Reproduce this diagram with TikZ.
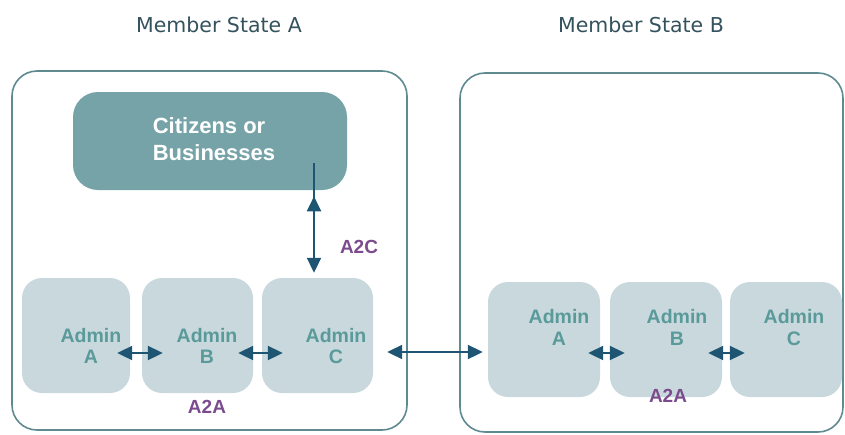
\documentclass[tikz,border=0pt]{standalone}
\usepackage{fontspec}
\setmainfont{Liberation Sans}
\newfontfamily\titlefont{DejaVu Sans}
\usetikzlibrary{arrows.meta,decorations.markings}
\definecolor{framecol}{HTML}{5E8A90}
\definecolor{citfill}{HTML}{76A3A8}
\definecolor{admfill}{HTML}{C8D8DC}
\definecolor{admtext}{HTML}{5A9A9A}
\definecolor{arrcol}{HTML}{1E5573}
\definecolor{purp}{HTML}{7B4B8E}
\definecolor{titlecol}{HTML}{34525D}
\tikzset{
  frame/.style={draw=framecol, line width=1.6pt, rounded corners=25pt},
  citbox/.style={fill=citfill, rounded corners=25pt, inner sep=0pt},
  admbox/.style={fill=admfill, rounded corners=20pt, inner sep=0pt, minimum height=115pt},
  admlabel/.style={text=admtext, font=\fontsize{19.5}{21.5}\selectfont\bfseries, align=center, inner sep=0pt},
  citlabel/.style={text=white, font=\fontsize{22}{27}\selectfont\bfseries, align=left, inner sep=0pt},
  tag/.style={text=purp, font=\fontsize{19}{20}\selectfont\bfseries, inner sep=0pt},
  titlelabel/.style={text=titlecol, font=\titlefont\fontsize{20.5}{24}\selectfont, inner sep=0pt},
  biarrow/.style={draw=arrcol, line width=2pt, {Triangle[length=15pt,width=14pt]}-{Triangle[length=15pt,width=14pt]}},
}
\begin{document}
\begin{tikzpicture}[x=1pt,y=-1pt]
\useasboundingbox (0,0) rectangle (845,434);
% titles
\node[titlelabel] (tA) at (219,25) {Member State A};
\node[titlelabel] (tB) at (641,25) {Member State B};
% frames
\draw[frame] (12,71) rectangle (407,430);
\draw[frame] (460,73) rectangle (843,432);
% citizens
\node[citbox, minimum width=274pt, minimum height=98pt] (cit) at (210,141) {};
\node[citlabel] (citT) at (214,139) {Citizens or\\Businesses};
% admin boxes left
\node[admbox, minimum width=108pt] (lA) at (76,335.5) {};
\node[admbox, minimum width=111pt] (lB) at (197.5,335.5) {};
\node[admbox, minimum width=111pt] (lC) at (317.5,335.5) {};
\node[admlabel] (lAt) at (91,346) {Admin\\A};
\node[admlabel] (lBt) at (207,346) {Admin\\B};
\node[admlabel] (lCt) at (336,346) {Admin\\C};
% admin boxes right
\node[admbox, minimum width=112pt] (rA) at (544,339.5) {};
\node[admbox, minimum width=112pt] (rB) at (666,339.5) {};
\node[admbox, minimum width=112pt] (rC) at (786,339.5) {};
\node[admlabel] (rAt) at (559,327.5) {Admin\\A};
\node[admlabel] (rBt) at (677,327.5) {Admin\\B};
\node[admlabel] (rCt) at (794,327.5) {Admin\\C};
% A2C connector
\coordinate (a2cstart) at (314,163);
\draw[draw=arrcol, line width=2pt, -{Triangle[length=15pt,width=14pt]}, shorten >=5pt,
  postaction={decorate},
  decoration={markings, mark=at position 0.29 with {\arrowreversed{Triangle[length=15pt,width=14pt]}}}]
  (a2cstart) -- (a2cstart |- lC.north);
% A2A connectors left
\draw[biarrow, shorten <=-13pt, shorten >=-21pt] ([yshift=-17.5pt]lA.east) -- ([yshift=-17.5pt]lB.west);
\draw[biarrow, shorten <=-15pt, shorten >=-21pt] ([yshift=-17.5pt]lB.east) -- ([yshift=-17.5pt]lC.west);
% between states
\draw[biarrow, shorten <=14pt, shorten >=5pt] ([yshift=-16.5pt]lC.east) -- ([yshift=-12.5pt]rA.west);
% A2A connectors right
\draw[biarrow, shorten <=-12pt, shorten >=-15pt] ([yshift=-13.5pt]rA.east) -- ([yshift=-13.5pt]rB.west);
\draw[biarrow, shorten <=-14pt, shorten >=-15pt] ([yshift=-13.5pt]rB.east) -- ([yshift=-13.5pt]rC.west);
% labels
\node[tag] (a2c) at (359,247) {A2C};
\node[tag] (a2aL) at (207,407) {A2A};
\node[tag] (a2aR) at (668,396) {A2A};
\end{tikzpicture}
\end{document}
